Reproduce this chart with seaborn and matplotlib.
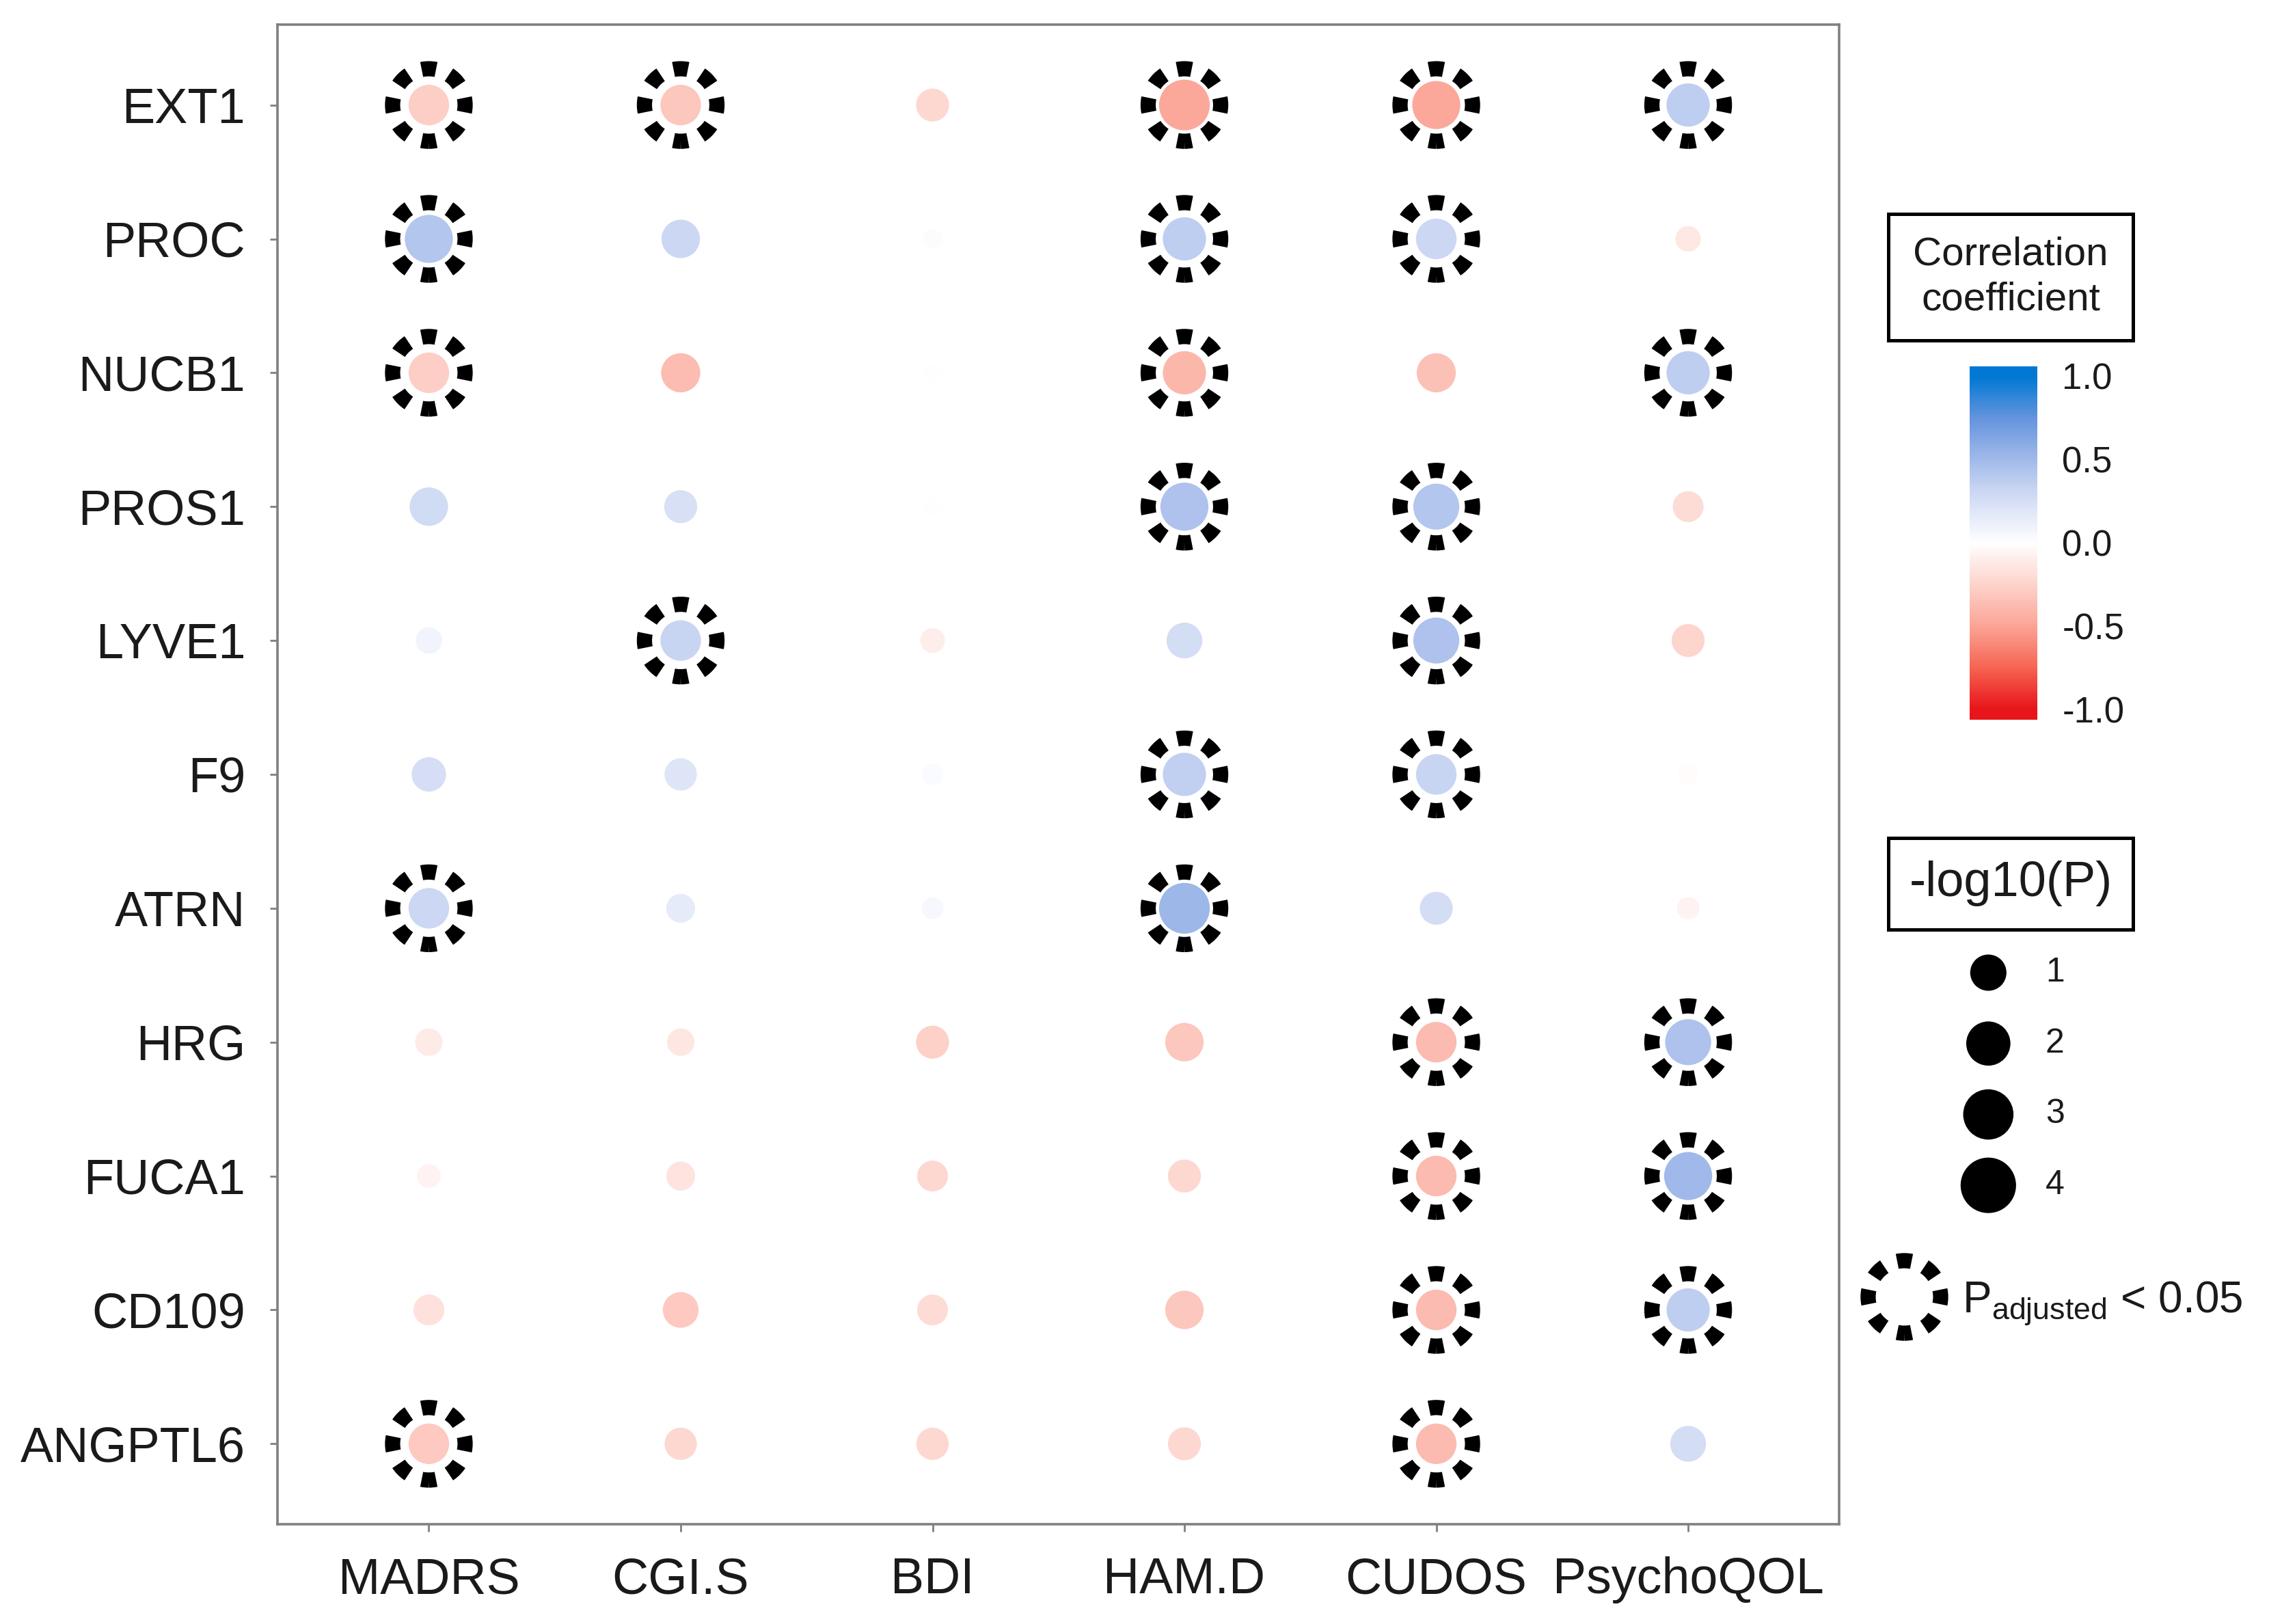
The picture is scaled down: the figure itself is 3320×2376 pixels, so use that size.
import numpy as np
import pandas as pd
import matplotlib
matplotlib.use("Agg")
import matplotlib.pyplot as plt
from matplotlib.colors import LinearSegmentedColormap, Normalize, FuncNorm
from matplotlib.patches import Rectangle
import seaborn as sns

# data
proteins = ["EXT1", "PROC", "NUCB1", "PROS1", "LYVE1", "F9", "ATRN",
            "HRG", "FUCA1", "CD109", "ANGPTL6"]
traits = ["MADRS", "CGI.S", "BDI", "HAM.D", "CUDOS", "PsychoQOL"]

corr = [
    [-0.28, -0.32, -0.22, -0.48, -0.48,  0.36],
    [ 0.42,  0.30,  0.02,  0.36,  0.30, -0.13],
    [-0.28, -0.37,  0.00, -0.40, -0.35,  0.36],
    [ 0.28,  0.24,  0.00,  0.44,  0.42, -0.20],
    [ 0.08,  0.32, -0.10,  0.26,  0.44, -0.24],
    [ 0.25,  0.20,  0.03,  0.35,  0.32, -0.02],
    [ 0.30,  0.15,  0.05,  0.52,  0.26, -0.07],
    [-0.12, -0.14, -0.26, -0.32, -0.38,  0.44],
    [-0.07, -0.16, -0.22, -0.22, -0.38,  0.50],
    [-0.17, -0.30, -0.20, -0.32, -0.38,  0.36],
    [-0.30, -0.22, -0.22, -0.22, -0.38,  0.26],
]
neglog_p = [
    [1.75, 1.75, 0.86, 3.45, 2.94, 2.14],
    [2.94, 1.47, 0.05, 2.14, 1.75, 0.29],
    [1.75, 1.56, 0.02, 2.14, 1.56, 2.14],
    [1.47, 0.86, 0.02, 2.94, 2.58, 0.67],
    [0.35, 1.75, 0.25, 1.15, 2.58, 0.86],
    [1.00, 0.80, 0.10, 2.14, 1.75, 0.05],
    [1.75, 0.51, 0.12, 3.45, 0.86, 0.15],
    [0.41, 0.41, 0.86, 1.47, 1.75, 2.58],
    [0.20, 0.51, 0.67, 0.86, 1.75, 2.94],
    [0.67, 1.15, 0.67, 1.47, 1.75, 2.14],
    [1.75, 0.80, 0.80, 0.86, 1.75, 1.15],
]
p_adj_sig = [
    [1, 1, 0, 1, 1, 1],
    [1, 0, 0, 1, 1, 0],
    [1, 0, 0, 1, 0, 1],
    [0, 0, 0, 1, 1, 0],
    [0, 1, 0, 0, 1, 0],
    [0, 0, 0, 1, 1, 0],
    [1, 0, 0, 1, 0, 0],
    [0, 0, 0, 0, 1, 1],
    [0, 0, 0, 0, 1, 1],
    [0, 0, 0, 0, 1, 1],
    [1, 0, 0, 0, 1, 0],
]
cbar_ticks = [-1.0, -0.5, 0.0, 0.5, 1.0]
size_breaks = [1, 2, 3, 4]

sns.set_theme(style="white")
plt.rcParams["font.family"] = ["Liberation Sans", "DejaVu Sans"]
plt.rcParams["lines.scale_dashes"] = False
plt.rcParams["mathtext.fontset"] = "custom"
plt.rcParams["mathtext.rm"] = "Liberation Sans"
plt.rcParams["mathtext.it"] = "Liberation Sans:italic"

df = pd.DataFrame({
    "protein": np.repeat(proteins, len(traits)),
    "trait": np.tile(traits, len(proteins)),
    "r": np.ravel(corr),
    "logp": np.ravel(neglog_p),
    "sig": np.ravel(p_adj_sig).astype(bool),
})

cmap = LinearSegmentedColormap.from_list(
    "corr", ["#E8161B", "#F66452", "#FBA597", "#FDD3CB", "#FFFFFF",
             "#D6DFF5", "#A2BAEA", "#6494DD", "#0078D4"])

# ggplot-like size scale: diameter grows with sqrt(-log10 P)
D0, DK = 9.0, 10.1


def _fwd(v):
    return (D0 + DK * np.sqrt(np.clip(v, 0, None))) ** 2


def _inv(s):
    return ((np.sqrt(s) - D0) / DK) ** 2


size_norm = FuncNorm((_fwd, _inv), vmin=0, vmax=4)
size_range = (float(_fwd(0)), float(_fwd(4)))

# dashed ring for adjusted significance
ring_d = 38.2
ring_s = ring_d ** 2
ring_on = 7.6
ring_off = np.pi * ring_d / 8 - ring_on
ring_style = dict(s=ring_s, facecolor="none", edgecolor="black", linewidth=8,
                  linestyle=(ring_on / 2, (ring_on, ring_off)), legend=False)

fig = plt.figure(figsize=(16.6, 11.88), dpi=200)
ax = fig.add_axes([0.1224, 0.0615, 0.6882, 0.9233])

sns.scatterplot(data=df, x="trait", y="protein", hue="r", palette=cmap,
                hue_norm=(-1, 1), size="logp", sizes=size_range,
                size_norm=size_norm, edgecolor="white", linewidth=1,
                legend=False, ax=ax)
sns.scatterplot(data=df[df["sig"]], x="trait", y="protein", ax=ax, **ring_style)

ax.set_xlim(-0.6, len(traits) - 0.4)
ax.set_ylim(len(proteins) - 0.4, -0.6)
ax.set_xlabel("")
ax.set_ylabel("")
for sp in ax.spines.values():
    sp.set_color("#808080")
    sp.set_linewidth(1.3)
ax.tick_params(bottom=True, left=True, length=4, width=1, color="#808080",
               labelsize=26.5, labelcolor="#1a1a1a", pad=13)
ax.tick_params(axis="y", labelsize=26)

# colour bar
cax = fig.add_axes([0.8680, 0.5570, 0.0300, 0.2175])
sm = plt.cm.ScalarMappable(norm=Normalize(-1, 1), cmap=cmap)
bounds = np.linspace(-1.06, 1.06, 257)
mids = np.clip((bounds[:-1] + bounds[1:]) / 2, -1, 1)
cb = fig.colorbar(sm, cax=cax, boundaries=bounds, values=mids, ticks=cbar_ticks)
cb.outline.set_visible(False)
cb.set_ticklabels([f"{t:.1f}" for t in cbar_ticks])
cax.tick_params(direction="in", length=6.5, width=1, color="#f4f4f4",
                left=True, right=True, labelsize=19, labelcolor="#1a1a1a", pad=13)

# boxed legend titles
for y0, y1, txt, fs in [(0.7906, 0.8681, "Correlation\ncoefficient", 21),
                        (0.4278, 0.4840, "-log10(P)", 26)]:
    fig.add_artist(Rectangle((0.8323, y0), 0.1078, y1 - y0, transform=fig.transFigure,
                             fill=False, edgecolor="black", linewidth=1.8))
    fig.text(0.8862, (y0 + y1) / 2, txt, ha="center", va="center",
             fontsize=fs, linespacing=1.3, color="#1a1a1a")

# size legend
lax = fig.add_axes([0.8463, 0.2483, 0.06, 0.1746])
sns.scatterplot(x=np.zeros(len(size_breaks)), y=size_breaks, size=size_breaks,
                sizes=size_range, size_norm=size_norm, color="black",
                edgecolor="black", linewidth=0, legend=False, ax=lax)
lax.set_xlim(-1, 1)
lax.set_ylim(4.5, 0.5)
for v in size_breaks:
    lax.text(0.92, v, str(v), transform=lax.get_yaxis_transform(),
             ha="left", va="center", fontsize=18, color="#1a1a1a")
lax.axis("off")

# significance legend
rax = fig.add_axes([0.8093, 0.1614, 0.06, 0.08])
sns.scatterplot(x=[0], y=[0], ax=rax, **ring_style)
rax.set_xlim(-1, 1)
rax.set_ylim(-1, 1)
rax.axis("off")
fig.text(0.8648, 0.1916, r"P$_{\mathrm{adjusted}}$ < 0.05", ha="left",
         va="baseline", fontsize=23, color="#1a1a1a")

fig.savefig("out.png", dpi=200)
